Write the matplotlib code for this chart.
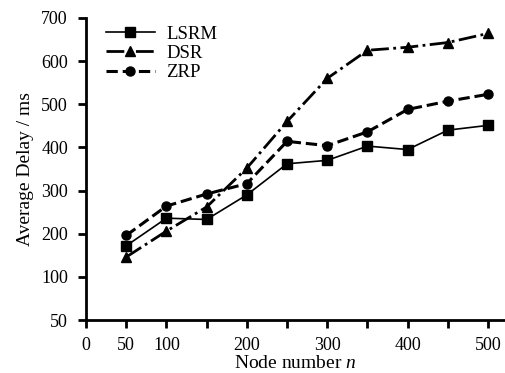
import matplotlib
matplotlib.use("Agg")
import matplotlib.pyplot as plt

plt.rcParams['font.family'] = ['Liberation Serif', 'DejaVu Serif']
plt.rcParams['mathtext.fontset'] = 'custom'
plt.rcParams['mathtext.it'] = 'Liberation Serif:italic'

# data
nodes = [50, 100, 150, 200, 250, 300, 350, 400, 450, 500]
lsrm = [172, 236, 233, 290, 362, 370, 403, 395, 440, 451]
dsr = [146, 206, 262, 352, 460, 560, 625, 632, 643, 664]
zrp = [196, 264, 292, 316, 414, 404, 436, 488, 507, 523]

x_ticks = [0, 50, 100, 150, 200, 250, 300, 350, 400, 450, 500]
x_labels = ["0", "50", "100", "", "200", "", "300", "", "400", "", "500"]
y_ticks = [0, 100, 200, 300, 400, 500, 600, 700]
y_labels = ["50", "100", "200", "300", "400", "500", "600", "700"]

fig = plt.figure(figsize=(5.06, 3.73), dpi=100)
ax = fig.add_axes([0.170, 0.142, 0.828, 0.810])

ax.plot(nodes, lsrm, "k-", lw=1.2, marker="s", ms=7.5, label="LSRM")
ax.plot(nodes, dsr, "k-.", lw=2.0, marker="^", ms=7, label="DSR")
ax.plot(nodes, zrp, "k--", lw=2.2, marker="o", ms=6.5, label="ZRP")

ax.set_xlim(0, 521)
ax.set_ylim(0, 700)
ax.set_xticks(x_ticks)
ax.set_xticklabels(x_labels)
ax.set_yticks(y_ticks)
ax.set_yticklabels(y_labels)

for s in ["top", "right"]:
    ax.spines[s].set_visible(False)
for s in ["left", "bottom"]:
    ax.spines[s].set_linewidth(2)
ax.spines["left"].set_bounds(0, 700)
ax.tick_params(direction="out", length=6, width=2, labelsize=13)
ax.tick_params(axis="y", pad=7)
ax.tick_params(axis="x", pad=6)

ax.set_xlabel("Node number $n$", fontsize=14, labelpad=1)
ax.set_ylabel("Average Delay / ms", fontsize=14, labelpad=5)

ax.legend(loc="upper left", bbox_to_anchor=(0.03, 1.0), frameon=False,
          fontsize=13.5, handlelength=2.6, handletextpad=0.6,
          labelspacing=0.12, borderaxespad=0)

plt.savefig("out.png", dpi=100)
plt.close()
